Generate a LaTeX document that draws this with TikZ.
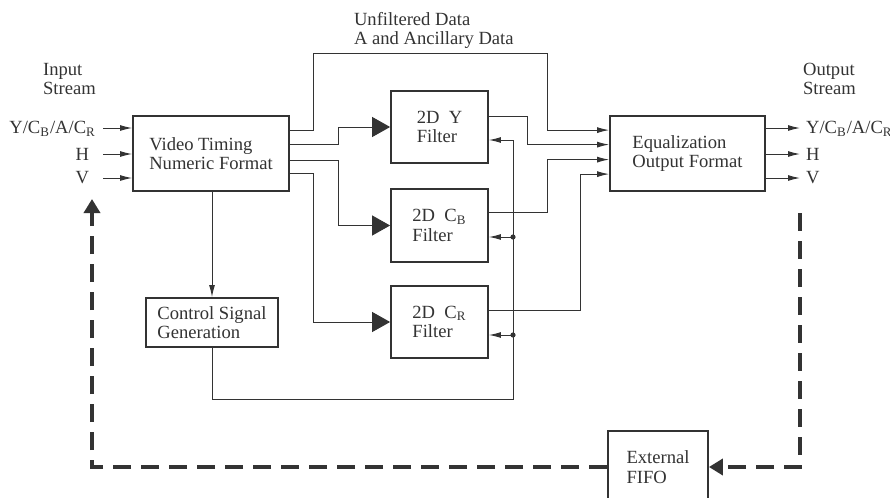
\documentclass[tikz,border=0pt]{standalone}
\usepackage{fontspec}
\setmainfont{Liberation Serif}
\usetikzlibrary{arrows.meta, calc, positioning}
\definecolor{mygray}{HTML}{333333}
\tikzset{
	blocknode/.style={
			draw=mygray,
			line width=0.9pt,
			fill=white,
			text=mygray,
			align=left,
			inner sep=0pt
		},
	labelnode/.style={
			text=mygray,
			align=left
		},
	wire/.style={
			draw=mygray,
			line width=0.5pt
		},
	smallarrow/.style={
			wire,
			-{Latex[length=6pt,width=3pt]}
		},
	bigarrow/.style={
			wire,
			-{Triangle[length=9pt,width=10pt]}
		},
	fifoline/.style={
			draw=mygray,
			line width=2.3pt,
			dash pattern=on 9pt off 5pt
		},
	fifoarrow/.style={
			fifoline,
			-{Triangle[length=7pt,width=8pt]}
		},
	tapdot/.style={
			circle,
			fill=mygray,
			inner sep=0pt,
			minimum size=2.6pt
		}
}

\begin{document}
\begin{tikzpicture}[x=0.5pt, y=-0.5pt, font=\fontsize{9.3}{9.7}\selectfont]
\useasboundingbox (0,0) rectangle (890,498);

\node[blocknode, minimum width=78pt, minimum height=37.5pt] (timing) at (211,153.5) {Video Timing\\Numeric Format};
\node[blocknode, minimum width=48.5pt, minimum height=36pt] (fy) at (439.5,127) {2D\enspace Y\\Filter};
\node[blocknode, minimum width=48.5pt, minimum height=36.5pt] (fcb) at (439.5,225.5) {2D\enspace C\textsubscript{B}\\Filter};
\node[blocknode, minimum width=48.5pt, minimum height=36pt] (fcr) at (439.5,322) {2D\enspace C\textsubscript{R}\\Filter};
\node[blocknode, minimum width=77.5pt, minimum height=37.5pt] (equal) at (687.5,153.5) {Equalization\\Output Format};
\node[blocknode, minimum width=66pt, minimum height=24.5pt] (ctrl) at (212,322.5) {Control Signal\\Generation};
\node[blocknode, minimum width=50pt, minimum height=36pt] (fifo) at (658,467) {External\\FIFO};

\node[labelnode, anchor=north west] (unfilt) at (347,5) {Unfiltered Data\\A and Ancillary Data};
\node[labelnode, anchor=north west] (instream) at (36,56) {Input\\Stream};
\node[labelnode, anchor=north west] (outstream) at (796,56) {Output\\Stream};

\coordinate (inY) at (103,128);
\coordinate (inH) at (103,154);
\coordinate (inV) at (103,178);
\node[labelnode, anchor=east] (inYlab) at (103,129) {Y/C\textsubscript{B}/A/C\textsubscript{R}};
\node[labelnode, anchor=east] (inHlab) at (96,154) {H};
\node[labelnode, anchor=east] (inVlab) at (96,178) {V};
\draw[smallarrow] (inY) -- (inY -| timing.west);
\draw[smallarrow] (inH) -- (inH -| timing.west);
\draw[smallarrow] (inV) -- (inV -| timing.west);

\coordinate (outY) at (800,128);
\coordinate (outH) at (800,154);
\coordinate (outV) at (800,178);
\node[labelnode, anchor=west] (outYlab) at (799,129) {Y/C\textsubscript{B}/A/C\textsubscript{R}};
\node[labelnode, anchor=west] (outHlab) at (799,154) {H};
\node[labelnode, anchor=west] (outVlab) at (799,178) {V};
\draw[smallarrow] (outY -| equal.east) -- (outY);
\draw[smallarrow] (outH -| equal.east) -- (outH);
\draw[smallarrow] (outV -| equal.east) -- (outV);

\draw[smallarrow] ($(timing.north east)+(0,15)$) -- ++(24,0) |- (547,53) |- ($(equal.north west)+(0,15)$);
\draw[bigarrow] ($(timing.north east)+(0,29)$) -- ++(49,0) |- (fy.west);
\draw[bigarrow] ($(timing.north east)+(0,45)$) -- ++(49,0) |- (fcb.west);
\draw[bigarrow] ($(timing.north east)+(0,58)$) -- ++(24,0) |- (fcr.west);
\draw[smallarrow] (timing.south) -- (timing.south -| ctrl.north) -- (ctrl.north);

\draw[smallarrow] ($(fy.east)+(0,-11)$) -- ++(39,0) |- ($(equal.north west)+(0,29.5)$);
\draw[smallarrow] ($(fcb.east)+(0,-13)$) -- ++(59,0) |- ($(equal.north west)+(0,44.5)$);
\draw[smallarrow] ($(fcr.east)+(0,-12)$) -- ++(92,0) |- ($(equal.north west)+(0,59)$);

\coordinate (fbcb) at (513,237);
\coordinate (fbcr) at (513,335);
\draw[smallarrow] (ctrl.south) |- (513,399) |- ($(fy.east)+(0,13)$);
\draw[smallarrow] (fbcb) -- (fbcb -| fcb.east);
\draw[smallarrow] (fbcr) -- (fbcr -| fcr.east);
\node[tapdot] (dotcb) at (fbcb) {};
\node[tapdot] (dotcr) at (fbcr) {};

\coordinate (fbtop) at (800,213);
\coordinate (fbtip) at (92,199);
\draw[fifoarrow] (fbtop) |- (fifo.east);
\draw[fifoarrow] (fifo.west) -| (fbtip);
\end{tikzpicture}
\end{document}
